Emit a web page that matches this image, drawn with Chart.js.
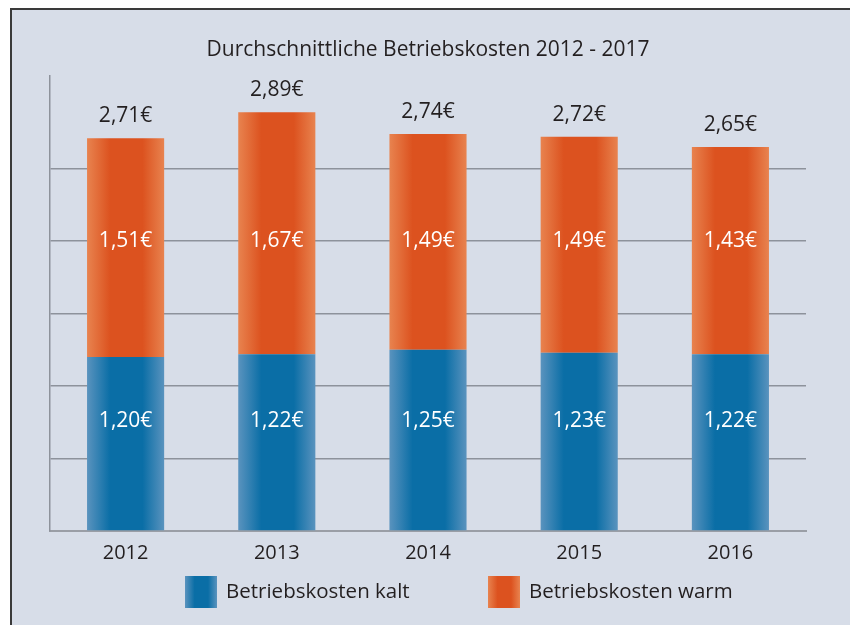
<!DOCTYPE html>
<html><head><meta charset="utf-8">
<script src="https://cdn.jsdelivr.net/npm/chart.js@4.4.1/dist/chart.umd.min.js"></script>
<style>html,body{margin:0;padding:0;background:#fff;}canvas{display:block;}</style>
</head><body>
<canvas id="c" width="850" height="625"></canvas>
<script>
const title = 'Durchschnittliche Betriebskosten 2012 - 2017';
const years = ['2012', '2013', '2014', '2015', '2016'];
const kalt = [1.20, 1.22, 1.25, 1.23, 1.22];
const warm = [1.51, 1.67, 1.49, 1.49, 1.43];
const totals = [2.71, 2.89, 2.74, 2.72, 2.65];
const seriesNames = ['Betriebskosten kalt', 'Betriebskosten warm'];

const FONT = '"Open Sans", "Noto Sans", sans-serif';
const BG = '#d7dde8';
const TEXT = '#231f20';
const BAR_PCT = 0.51;

function fmt(v){ return v.toFixed(2).replace('.', ',') + '€'; }

function grad(ctx, x0, x1, edge, mid){
  const g = ctx.createLinearGradient(x0, 0, x1, 0);
  g.addColorStop(0, edge);
  g.addColorStop(0.3, mid);
  g.addColorStop(0.72, mid);
  g.addColorStop(1, edge);
  return g;
}
const BLUE = ['#5a93be', '#0a6ea6'];
const ORANGE = ['#e8834f', '#dc521f'];
const PALETTE = [BLUE, ORANGE];

const gradientPlugin = {
  id: 'gradients',
  beforeDatasetsDraw(chart){
    const ctx = chart.ctx;
    chart.data.datasets.forEach((ds, di) => {
      const meta = chart.getDatasetMeta(di);
      meta.data.forEach(el => {
        const p = el.getProps(['x', 'width'], true);
        if (!isFinite(p.x) || !isFinite(p.width)) return;
        const g = grad(ctx, p.x - p.width/2, p.x + p.width/2, PALETTE[di][0], PALETTE[di][1]);
        el.options = Object.assign({}, el.options, {backgroundColor: g});
      });
    });
  }
};

const framePlugin = {
  id: 'frame',
  beforeDraw(chart){
    const ctx = chart.ctx;
    ctx.save();
    ctx.fillStyle = '#ffffff';
    ctx.fillRect(0, 0, 850, 625);
    ctx.fillStyle = BG;
    ctx.fillRect(11, 9, 839, 616);
    ctx.fillStyle = '#3a3a3a';
    ctx.fillRect(11, 8, 839, 2);
    ctx.fillRect(10, 8, 2, 617);
    ctx.restore();
  }
};

const labelPlugin = {
  id: 'labels',
  afterDraw(chart){
    const ctx = chart.ctx;
    const ys = chart.scales.y, xs = chart.scales.x;
    ctx.save();
    ctx.fillStyle = TEXT;
    ctx.font = '21px ' + FONT;
    ctx.textAlign = 'center';
    ctx.textBaseline = 'middle';
    ctx.fillText(title, (chart.chartArea.left + chart.chartArea.right)/2, 50);
    ctx.font = '21px ' + FONT;
    for (let i = 0; i < years.length; i++){
      const x = xs.getPixelForValue(i);
      ctx.fillStyle = TEXT;
      ctx.fillText(fmt(totals[i]), x, ys.getPixelForValue(kalt[i] + warm[i]) - 22);
      ctx.fillStyle = '#ffffff';
      ctx.fillText(fmt(warm[i]), x, ys.getPixelForValue(2.0));
      ctx.fillText(fmt(kalt[i]), x, ys.getPixelForValue(0.76));
    }
    const items = [
      {x: 185, colors: BLUE, text: seriesNames[0]},
      {x: 488, colors: ORANGE, text: seriesNames[1]}
    ];
    ctx.font = '20.5px ' + FONT;
    ctx.textAlign = 'left';
    for (const it of items){
      ctx.fillStyle = grad(ctx, it.x, it.x + 32, it.colors[0], it.colors[1]);
      ctx.fillRect(it.x, 576, 32, 32);
      ctx.fillStyle = TEXT;
      ctx.fillText(it.text, it.x + 41, 592);
    }
    ctx.restore();
  }
};

new Chart(document.getElementById('c'), {
  type: 'bar',
  data: {
    labels: years,
    datasets: [
      {label: seriesNames[0], data: kalt, backgroundColor: BLUE[1], borderWidth: 0},
      {label: seriesNames[1], data: warm, backgroundColor: ORANGE[1], borderWidth: 0}
    ]
  },
  options: {
    responsive: false,
    devicePixelRatio: 1,
    animation: false,
    layout: {padding: {top: 76, left: 50, right: 44, bottom: 54}},
    datasets: {bar: {categoryPercentage: 1, barPercentage: BAR_PCT}},
    plugins: {legend: {display: false}, title: {display: false}, tooltip: {enabled: false}},
    scales: {
      x: {
        stacked: true,
        grid: {display: false, drawTicks: false},
        border: {display: true, color: '#9a9ea6', width: 2},
        ticks: {color: TEXT, font: {family: FONT, size: 20}, padding: 10},
        afterFit(s){ s.height = 40; }
      },
      y: {
        stacked: true,
        min: 0, max: 3.14,
        ticks: {display: false, stepSize: 0.5},
        grid: {
          drawTicks: false,
          color: c => (c.tick && c.tick.value > 2.6) ? 'rgba(0,0,0,0)' : '#8d929b',
          lineWidth: 1.5
        },
        border: {display: true, color: '#8d929b', width: 1.5},
        afterFit(s){ s.width = 0; }
      }
    }
  },
  plugins: [framePlugin, gradientPlugin, labelPlugin]
});
</script>
</body></html>
